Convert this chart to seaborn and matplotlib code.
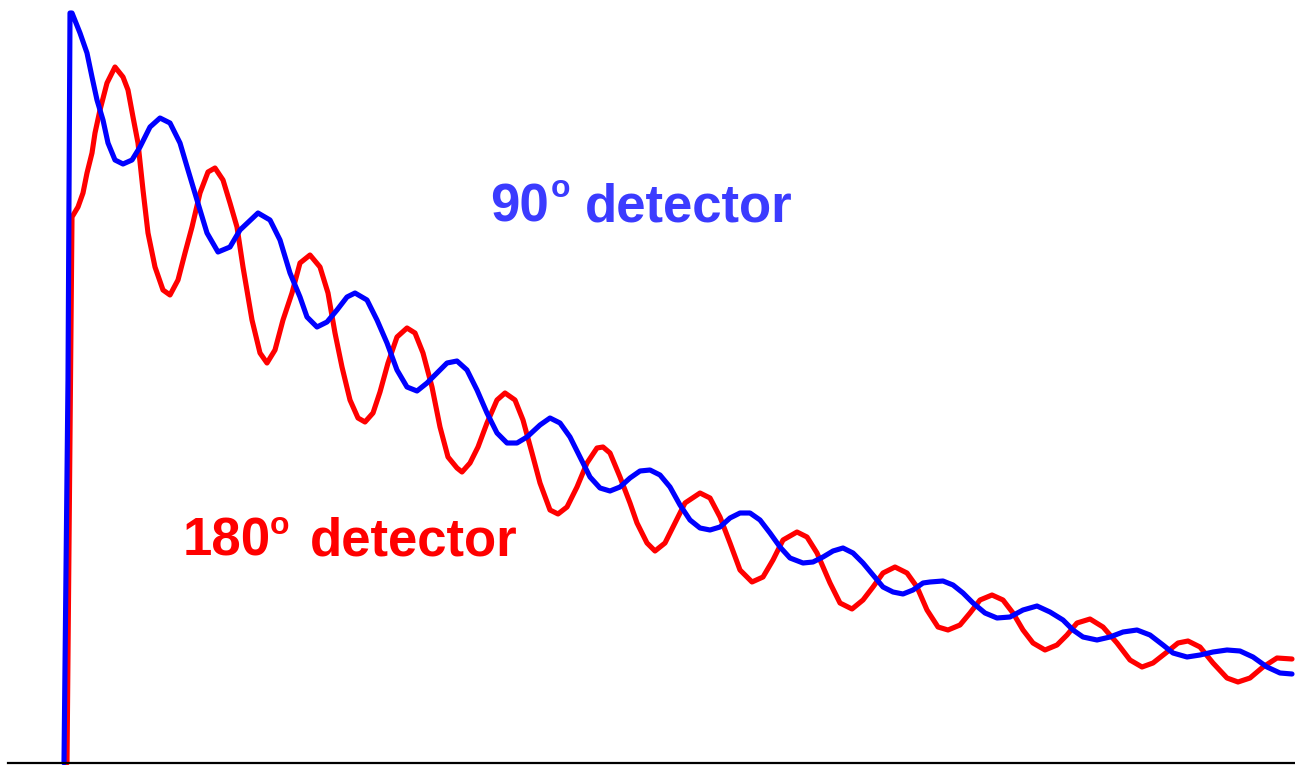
import matplotlib
matplotlib.use("Agg")
import matplotlib.pyplot as plt
import seaborn as sns
import pandas as pd

# ---- data (x = time channel, y = counts) ----
blue_x = [64, 68, 70, 72, 80, 87, 92, 97, 103, 108, 115, 123, 132, 140, 150, 160, 170, 180, 188, 197,
          207, 218, 230, 240, 258, 270, 280, 290, 300, 307, 317, 327, 337, 347, 355, 367, 377, 387, 397, 407,
          417, 427, 437, 447, 457, 467, 477, 487, 497, 507, 517, 527, 540, 550, 560, 570, 580, 590, 600, 610,
          620, 630, 640, 650, 660, 670, 680, 690, 700, 710, 720, 730, 740, 750, 760, 770, 780, 790, 803, 813,
          823, 833, 843, 853, 863, 873, 883, 893, 903, 913, 923, 930, 943, 953, 963, 973, 985, 997, 1010, 1023,
          1037, 1050, 1063, 1073, 1083, 1097, 1110, 1123, 1137, 1150, 1163, 1173, 1187, 1200, 1213, 1227, 1240, 1253, 1267, 1280,
          1292]
blue_y = [0, 383, 750, 750, 730, 710, 686, 663, 643, 620, 603, 599, 603, 616, 636, 645, 640, 620, 593, 563,
          530, 511, 516, 533, 550, 543, 523, 490, 466, 446, 436, 441, 453, 466, 470, 463, 443, 420, 393, 376,
          372, 380, 390, 400, 402, 393, 373, 350, 330, 320, 320, 326, 338, 345, 340, 326, 306, 286, 275, 272,
          276, 285, 292, 293, 288, 276, 258, 243, 235, 233, 236, 245, 250, 250, 243, 230, 216, 205, 200, 201,
          206, 212, 215, 210, 200, 188, 176, 171, 169, 173, 180, 181, 182, 178, 170, 160, 150, 145, 146, 153,
          157, 151, 143, 133, 126, 123, 126, 131, 133, 128, 118, 110, 106, 108, 111, 113, 112, 106, 96, 90,
          89]

red_x = [67, 72, 78, 83, 87, 92, 95, 100, 107, 115, 123, 128, 133, 138, 143, 148, 155, 163, 170, 178,
         185, 192, 200, 208, 215, 223, 230, 237, 243, 252, 260, 267, 275, 283, 292, 300, 310, 320, 328, 335,
         342, 350, 358, 365, 373, 380, 388, 397, 407, 415, 423, 432, 440, 448, 457, 462, 470, 478, 487, 497,
         505, 515, 523, 532, 540, 550, 558, 567, 577, 587, 597, 603, 610, 620, 630, 637, 647, 655, 665, 675,
         685, 700, 710, 720, 730, 740, 752, 763, 773, 783, 797, 807, 817, 830, 840, 852, 863, 873, 883, 895,
         907, 917, 927, 938, 948, 960, 970, 980, 992, 1003, 1013, 1023, 1033, 1045, 1057, 1067, 1077, 1090, 1103, 1117,
         1130, 1142, 1153, 1167, 1178, 1188, 1200, 1213, 1227, 1238, 1250, 1263, 1277, 1292]
red_y = [0, 546, 556, 570, 590, 610, 630, 653, 680, 696, 686, 673, 646, 620, 573, 530, 496, 473, 468, 483,
         510, 536, 570, 591, 595, 583, 560, 536, 496, 443, 410, 400, 413, 443, 470, 500, 508, 496, 470, 430,
         396, 363, 345, 341, 350, 371, 400, 426, 435, 430, 410, 376, 336, 306, 295, 291, 300, 316, 340, 363,
         370, 363, 343, 310, 280, 253, 249, 256, 276, 300, 315, 316, 310, 286, 260, 240, 220, 212, 220, 240,
         260, 270, 265, 246, 220, 193, 181, 186, 203, 223, 231, 226, 210, 180, 160, 154, 163, 176, 190, 196,
         190, 176, 153, 136, 133, 138, 150, 163, 168, 163, 150, 133, 120, 113, 118, 128, 140, 144, 136, 120,
         103, 96, 100, 111, 120, 122, 116, 100, 85, 81, 85, 96, 105, 104]

label_90 = ["90", "o", "detector"]
label_180 = ["180", "o", "detector"]

red_df = pd.DataFrame({"t": red_x, "counts": red_y})
blue_df = pd.DataFrame({"t": blue_x, "counts": blue_y})

sns.set_style("white")
plt.rcParams["font.family"] = ["Liberation Sans", "DejaVu Sans"]

W, H = 1295, 765
fig = plt.figure(figsize=(W / 100, H / 100), dpi=100)
ax = fig.add_axes([8 / W, 2 / H, (W - 8) / W, 763 / H])

sns.lineplot(data=red_df, x="t", y="counts", color="#ff0000", linewidth=3.7,
             sort=False, estimator=None, ax=ax, clip_on=False)
sns.lineplot(data=blue_df, x="t", y="counts", color="#0000ff", linewidth=3.7,
             sort=False, estimator=None, ax=ax, clip_on=False)

ax.set_xlim(8, 1295)
ax.set_ylim(0, 763)
ax.set_xticks([])
ax.set_yticks([])
ax.set_xlabel("")
ax.set_ylabel("")
for s in ["left", "right", "top"]:
    ax.spines[s].set_visible(False)
ax.spines["bottom"].set_color("black")
ax.spines["bottom"].set_linewidth(1.6)

blue_txt = "#3b3bff"
ax.text(490, 541, label_90[0], color=blue_txt, fontsize=38, fontweight="bold", va="baseline", ha="left")
ax.text(551, 566, label_90[1], color=blue_txt, fontsize=23, fontweight="bold", va="baseline", ha="left")
ax.text(585, 541, label_90[2], color=blue_txt, fontsize=38, fontweight="bold", va="baseline", ha="left")

red_txt = "#ff0000"
ax.text(183, 207, label_180[0], color=red_txt, fontsize=38, fontweight="bold", va="baseline", ha="left")
ax.text(270, 229, label_180[1], color=red_txt, fontsize=23, fontweight="bold", va="baseline", ha="left")
ax.text(310, 207, label_180[2], color=red_txt, fontsize=38, fontweight="bold", va="baseline", ha="left")

fig.savefig("out.png", dpi=100)
